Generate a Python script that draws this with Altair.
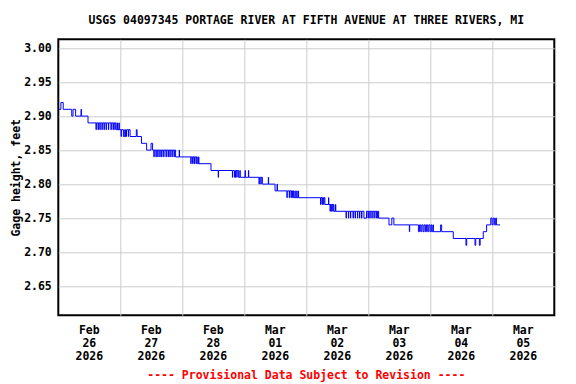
import altair as alt
import pandas as pd

TITLE = "USGS 04097345 PORTAGE RIVER AT FIFTH AVENUE AT THREE RIVERS, MI"
FOOTER = "---- Provisional Data Subject to Revision ----"
Y_TITLE = "Gage height, feet"

# Step changes of gage height (hours after 2026-02-26 00:00, feet)
STEP_HOURS = [0.0, 1.0, 1.9, 5.2, 5.7, 6.7, 11.5, 22.4, 27.8, 32.2, 34.2, 35.9, 36.5,
              45.4, 53.8, 59.1, 69.8, 79.0, 83.9, 91.1, 103.2, 106.7,
              118.3, 119.3, 124.0,
              128.0, 129.1, 129.9,
              145.2,
              152.9, 164.5, 165.8, 171.0]
STEP_GAGE = [2.91, 2.92, 2.91, 2.90, 2.91, 2.90, 2.89, 2.88, 2.87, 2.86, 2.85, 2.86, 2.85,
             2.84, 2.83, 2.82, 2.81, 2.80, 2.79, 2.78, 2.77, 2.76,
             2.75, 2.76, 2.75,
             2.74, 2.75, 2.74,
             2.73,
             2.72, 2.73, 2.74, 2.74]

# Short one-reading excursions (start hour, value, duration in hours)
SPIKE_HOURS = [8.8, 14.6, 15.4, 16.1, 16.9, 17.7, 18.5, 19.4, 20.4, 21.2, 21.9,
               22.9, 23.5, 24.3, 25.2, 26.0, 27.1, 30.2,
               37.0, 37.8, 38.5, 39.3, 40.0, 40.8, 41.7, 42.5, 43.2, 44.0, 44.8,
               46.8, 51.3, 52.0, 52.6, 53.3, 54.3,
               61.9, 67.4, 68.2, 69.1, 70.3, 72.3, 73.6,
               77.7, 78.4, 81.3, 84.7,
               88.5, 89.4, 90.1, 90.7, 91.6, 92.3, 92.9,
               101.5, 102.1, 102.7, 104.6, 105.2, 105.8, 106.3, 107.3,
               111.4, 112.3, 113.1, 114.1, 114.9, 115.8, 116.6, 117.4,
               119.9, 120.6, 121.4, 122.2, 123.0, 123.6,
               135.9,
               139.4, 140.3, 141.2, 142.1, 143.0, 143.9, 144.6,
               148.0, 157.8, 161.3, 163.0,
               167.4, 168.3, 169.3]
SPIKE_GAGE = [2.91, 2.88, 2.88, 2.88, 2.88, 2.88, 2.88, 2.88, 2.88, 2.88, 2.88,
              2.89, 2.89, 2.87, 2.87, 2.87, 2.87, 2.88,
              2.84, 2.84, 2.84, 2.84, 2.84, 2.84, 2.84, 2.84, 2.84, 2.84, 2.84,
              2.85, 2.83, 2.83, 2.83, 2.83, 2.84,
              2.81, 2.81, 2.81, 2.81, 2.82, 2.82, 2.82,
              2.80, 2.80, 2.81, 2.80,
              2.78, 2.78, 2.78, 2.78, 2.79, 2.79, 2.79,
              2.77, 2.77, 2.77, 2.78, 2.76, 2.76, 2.76, 2.77,
              2.75, 2.75, 2.75, 2.75, 2.75, 2.75, 2.75, 2.75,
              2.75, 2.75, 2.75, 2.75, 2.75, 2.75,
              2.73,
              2.73, 2.73, 2.73, 2.73, 2.73, 2.73, 2.73,
              2.74, 2.71, 2.71, 2.71,
              2.75, 2.75, 2.75]
SPIKE_LEN = [0.15, 0.12, 0.12, 0.12, 0.12, 0.12, 0.12, 0.12, 0.12, 0.12, 0.12,
             0.12, 0.12, 0.12, 0.5, 0.4, 0.12, 0.3,
             0.12, 0.12, 0.12, 0.12, 0.12, 0.12, 0.12, 0.12, 0.12, 0.12, 0.12,
             0.12, 0.12, 0.12, 0.12, 0.12, 0.12,
             0.12, 0.12, 0.4, 0.12, 0.12, 0.12, 0.12,
             0.12, 0.12, 0.12, 0.12,
             0.12, 0.12, 0.12, 0.12, 0.12, 0.12, 0.12,
             0.12, 0.12, 0.12, 0.12, 0.12, 0.12, 0.12, 0.12,
             0.12, 0.12, 0.12, 0.12, 0.12, 0.12, 0.12, 0.12,
             0.12, 0.12, 0.12, 0.12, 0.12, 0.12,
             0.12,
             0.4, 0.4, 0.4, 0.4, 0.4, 0.4, 0.4,
             0.4, 0.3, 0.3, 0.3,
             0.5, 0.5, 0.3]

LABEL_HOURS = [12, 36, 60, 84, 108, 132, 156, 180]
MONTHS = ["Feb", "Feb", "Feb", "Mar", "Mar", "Mar", "Mar", "Mar"]
DAYS = ["26", "27", "28", "01", "02", "03", "04", "05"]
YEARS = ["2026", "2026", "2026", "2026", "2026", "2026", "2026", "2026"]
X_GRID = [24, 48, 72, 96, 120, 144, 168]
Y_TICKS = [2.65, 2.70, 2.75, 2.80, 2.85, 2.90, 2.95, 3.00]


def base_at(t):
    v = STEP_GAGE[0]
    for h, g in zip(STEP_HOURS, STEP_GAGE):
        if h <= t:
            v = g
    return v


rows = list(zip(STEP_HOURS, STEP_GAGE))
for h, g, ln in zip(SPIKE_HOURS, SPIKE_GAGE, SPIKE_LEN):
    rows.append((h, g))
    end = round(h + ln, 3)
    rows.append((end, base_at(end)))
rows.sort(key=lambda r: r[0])
df = pd.DataFrame(rows, columns=["hour", "gage"])

labels_df = pd.DataFrame({"hour": LABEL_HOURS, "month": MONTHS, "day": DAYS, "year": YEARS})

FONT = "DejaVu Sans Mono"
FS = 11.5
W, H = 496, 276

xscale = alt.Scale(domain=[0, 192], nice=False, zero=False)
yscale = alt.Scale(domain=[2.607, 3.013], nice=False, zero=False)

line = alt.Chart(df).mark_line(
    color="#0000ff", strokeWidth=1, interpolate="step-after"
).encode(
    x=alt.X("hour:Q", scale=xscale,
            axis=alt.Axis(values=X_GRID, labels=False, ticks=False, domain=False,
                          grid=True, title=None, gridColor="#cccccc", gridWidth=1)),
    y=alt.Y("gage:Q", scale=yscale,
            axis=alt.Axis(values=Y_TICKS, format=".2f", ticks=False, domain=False,
                          grid=True, gridColor="#cccccc", gridWidth=1,
                          labelFont=FONT, labelFontSize=FS, labelFontWeight="bold",
                          labelColor="black", labelPadding=7,
                          title=Y_TITLE, titleFont=FONT, titleFontSize=FS,
                          titleFontWeight="bold", titleColor="black", titlePadding=2)),
)


def date_row(field, dy):
    return alt.Chart(labels_df).mark_text(
        font=FONT, fontSize=FS, fontWeight="bold", color="black",
        align="center", baseline="middle"
    ).encode(x=alt.X("hour:Q", scale=xscale), y=alt.value(H + dy), text=f"{field}:N")


title_layer = alt.Chart(pd.DataFrame({"t": [TITLE]})).mark_text(
    font=FONT, fontSize=FS, fontWeight="bold", color="black",
    align="center", baseline="middle"
).encode(x=alt.value(W / 2), y=alt.value(-17.8), text="t:N")

footer_layer = alt.Chart(pd.DataFrame({"t": [FOOTER]})).mark_text(
    font=FONT, fontSize=FS, fontWeight="bold", color="#ff0000",
    align="center", baseline="middle"
).encode(x=alt.value(W / 2), y=alt.value(336.5), text="t:N")

chart = alt.layer(
    line,
    date_row("month", 15.8),
    date_row("day", 28.6),
    date_row("year", 41.4),
    title_layer,
    footer_layer,
).properties(
    width=W, height=H,
    padding={"left": 50.3, "top": 31.3, "right": 13.7, "bottom": 70},
    autosize=alt.AutoSizeParams(type="none"),
    background="white",
).configure_view(stroke="black", strokeWidth=2)

chart.save("out.html", embed_options={"renderer": "svg", "actions": False})
